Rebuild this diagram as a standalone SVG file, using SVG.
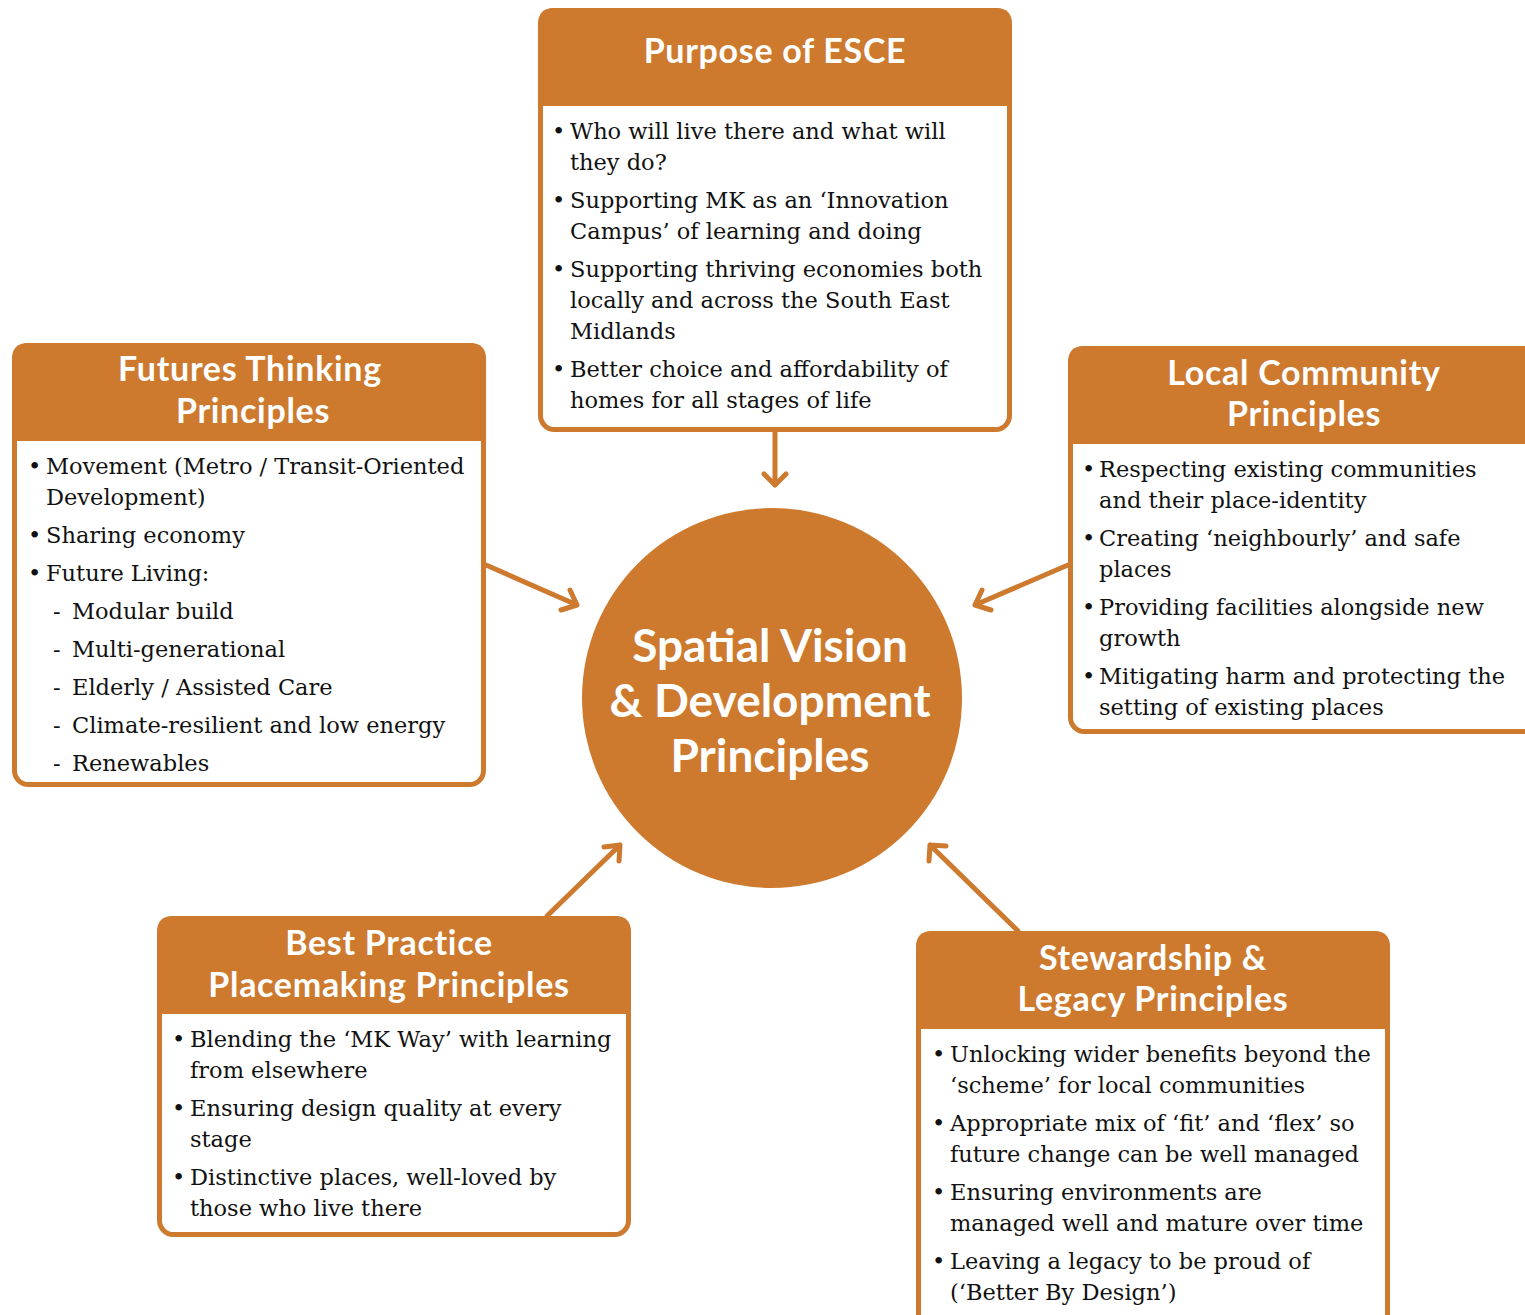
<svg xmlns="http://www.w3.org/2000/svg" width="1525" height="1315" viewBox="0 0 1525 1315">
<style>
.box{fill:#ffffff;stroke:#CD7A2F;stroke-width:5}
.hdr{fill:#CD7A2F}
.ht{font-family:Lato,"Open Sans",sans-serif;font-weight:bold;font-size:34px;letter-spacing:0.7px;fill:#ffffff;text-anchor:middle}
.bt{font-family:"DejaVu Serif","Liberation Serif",serif;font-size:22.5px;fill:#111111}
.ct{font-family:Lato,"Open Sans",sans-serif;font-weight:bold;font-size:46px;fill:#ffffff;text-anchor:middle}
.con{stroke:#CD7A2F;stroke-width:5;fill:none;stroke-linecap:round;stroke-linejoin:round}
</style>
<rect width="1525" height="1315" fill="#ffffff"/>
<g id="connectors">
<path class="con" d="M775 432 L775 485 M764 474 L775 485 L786 474"/>
<path class="con" d="M486 565 L577 605 M570 590 L577 605 L561 610"/>
<path class="con" d="M1068 565 L975 605 M982 590 L975 605 L991 610"/>
<path class="con" d="M547 916 L620 845 M604 847 L620 845 L619 861"/>
<path class="con" d="M1018 931 L930 845 M929 861 L930 845 L946 846"/>
</g>
<g id="center">
<circle cx="772" cy="698" r="190" fill="#CD7A2F"/>
<text class="ct" x="770" y="662">Spatial Vision</text>
<text class="ct" x="770" y="717">&amp; Development</text>
<text class="ct" x="770" y="772">Principles</text>
</g>
<g id="purpose">
<rect class="box" x="540.5" y="10.5" width="469" height="419" rx="14"/>
<path class="hdr" d="M538 106 L538 24 Q538 8 554 8 L996 8 Q1012 8 1012 24 L1012 106 Z"/>
<text class="ht" x="775" y="63">Purpose of ESCE</text>
<g class="bt">
<text x="552" y="139">•</text><text x="570" y="139">Who will live there and what will</text>
<text x="570" y="170">they do?</text>
<text x="552" y="208">•</text><text x="570" y="208">Supporting MK as an ‘Innovation</text>
<text x="570" y="239">Campus’ of learning and doing</text>
<text x="552" y="277">•</text><text x="570" y="277">Supporting thriving economies both</text>
<text x="570" y="308">locally and across the South East</text>
<text x="570" y="339">Midlands</text>
<text x="552" y="377">•</text><text x="570" y="377">Better choice and affordability of</text>
<text x="570" y="408">homes for all stages of life</text>
</g>
</g>
<g id="futures">
<rect class="box" x="14.5" y="345.5" width="469" height="439" rx="14"/>
<path class="hdr" d="M12 441 L12 359 Q12 343 28 343 L470 343 Q486 343 486 359 L486 441 Z"/>
<text class="ht" x="250" y="381">Futures Thinking</text>
<text class="ht" x="253" y="423">Principles</text>
<g class="bt">
<text x="28" y="474">•</text><text x="46" y="474">Movement (Metro / Transit-Oriented</text>
<text x="46" y="505">Development)</text>
<text x="28" y="543">•</text><text x="46" y="543">Sharing economy</text>
<text x="28" y="581">•</text><text x="46" y="581">Future Living:</text>
<text x="53" y="619">-</text><text x="72" y="619">Modular build</text>
<text x="53" y="657">-</text><text x="72" y="657">Multi-generational</text>
<text x="53" y="695">-</text><text x="72" y="695">Elderly / Assisted Care</text>
<text x="53" y="733">-</text><text x="72" y="733">Climate-resilient and low energy</text>
<text x="53" y="771">-</text><text x="72" y="771">Renewables</text>
</g>
</g>
<g id="local">
<rect class="box" x="1070.5" y="348.5" width="480" height="383" rx="14"/>
<path class="hdr" d="M1068 444 L1068 362 Q1068 346 1084 346 L1530 346 L1530 444 Z"/>
<text class="ht" x="1304" y="385">Local Community</text>
<text class="ht" x="1304" y="426">Principles</text>
<g class="bt">
<text x="1082" y="477">•</text><text x="1099" y="477">Respecting existing communities</text>
<text x="1099" y="508">and their place-identity</text>
<text x="1082" y="546">•</text><text x="1099" y="546">Creating ‘neighbourly’ and safe</text>
<text x="1099" y="577">places</text>
<text x="1082" y="615">•</text><text x="1099" y="615">Providing facilities alongside new</text>
<text x="1099" y="646">growth</text>
<text x="1082" y="684">•</text><text x="1099" y="684">Mitigating harm and protecting the</text>
<text x="1099" y="715">setting of existing places</text>
</g>
</g>
<g id="bestpractice">
<rect class="box" x="159.5" y="918.5" width="469" height="316" rx="14"/>
<path class="hdr" d="M157 1014 L157 932 Q157 916 173 916 L615 916 Q631 916 631 932 L631 1014 Z"/>
<text class="ht" x="389" y="955">Best Practice</text>
<text class="ht" x="389" y="997">Placemaking Principles</text>
<g class="bt">
<text x="172" y="1047">•</text><text x="190" y="1047">Blending the ‘MK Way’ with learning</text>
<text x="190" y="1078">from elsewhere</text>
<text x="172" y="1116">•</text><text x="190" y="1116">Ensuring design quality at every</text>
<text x="190" y="1147">stage</text>
<text x="172" y="1185">•</text><text x="190" y="1185">Distinctive places, well-loved by</text>
<text x="190" y="1216">those who live there</text>
</g>
</g>
<g id="stewardship">
<rect class="box" x="918.5" y="933.5" width="469" height="400" rx="14"/>
<path class="hdr" d="M916 1029 L916 947 Q916 931 932 931 L1374 931 Q1390 931 1390 947 L1390 1029 Z"/>
<text class="ht" x="1153" y="970">Stewardship &amp;</text>
<text class="ht" x="1153" y="1011">Legacy Principles</text>
<g class="bt">
<text x="932" y="1062">•</text><text x="950" y="1062">Unlocking wider benefits beyond the</text>
<text x="950" y="1093">‘scheme’ for local communities</text>
<text x="932" y="1131">•</text><text x="950" y="1131">Appropriate mix of ‘fit’ and ‘flex’ so</text>
<text x="950" y="1162">future change can be well managed</text>
<text x="932" y="1200">•</text><text x="950" y="1200">Ensuring environments are</text>
<text x="950" y="1231">managed well and mature over time</text>
<text x="932" y="1269">•</text><text x="950" y="1269">Leaving a legacy to be proud of</text>
<text x="950" y="1300">(‘Better By Design’)</text>
</g>
</g>
</svg>
